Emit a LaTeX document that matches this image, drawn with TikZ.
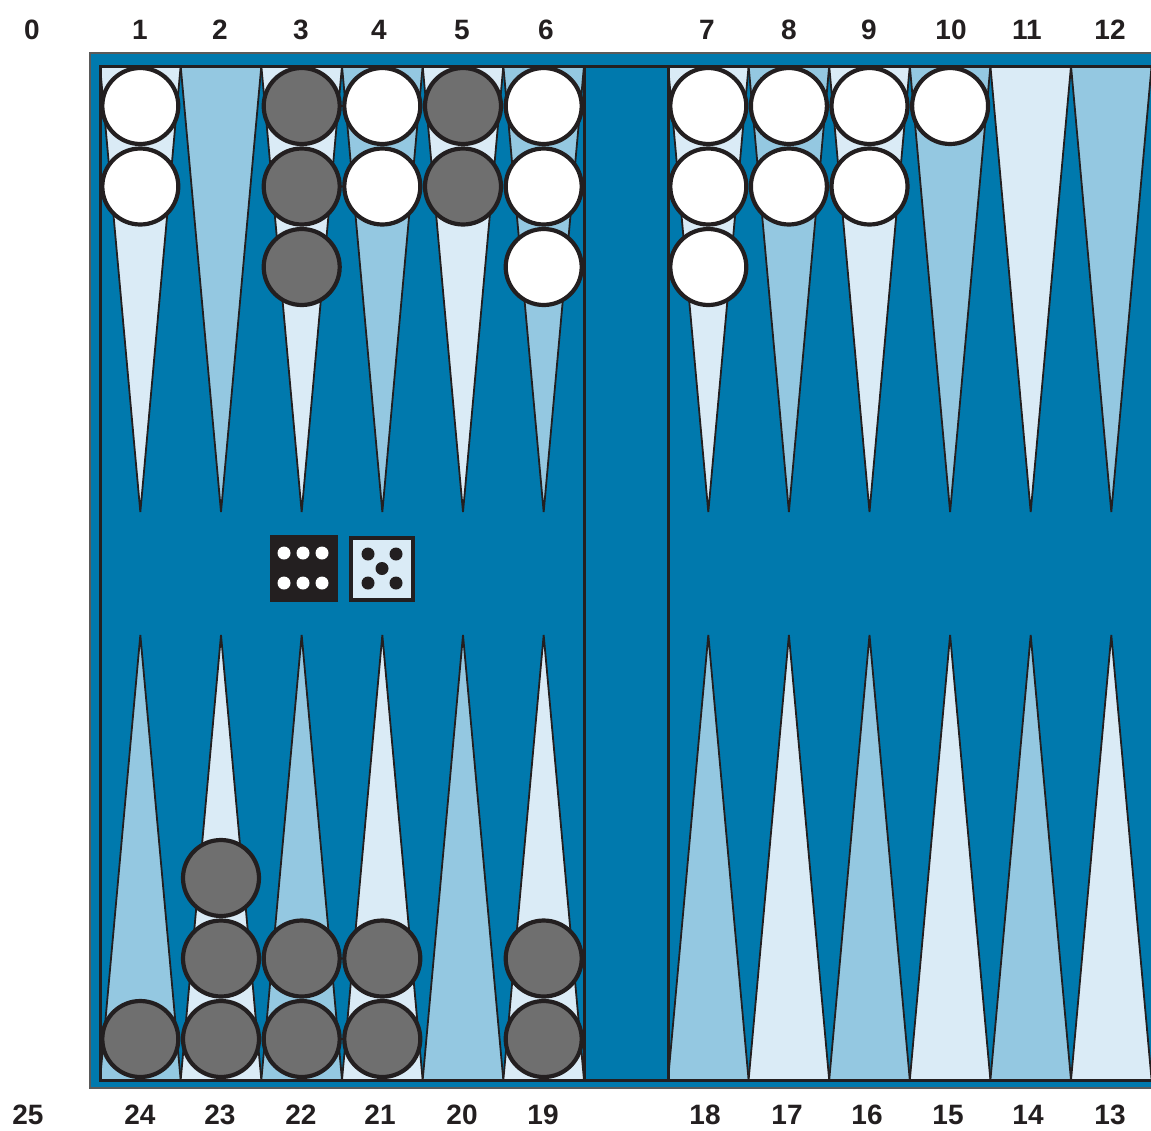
\documentclass[tikz,border=0pt]{standalone}
\usepackage{fontspec}
\setsansfont{Liberation Sans}
\definecolor{boardblue}{HTML}{0079AD}
\definecolor{medpt}{HTML}{94C8E1}
\definecolor{lightpt}{HTML}{DAEBF6}
\definecolor{darkline}{HTML}{231F20}
\definecolor{graychk}{HTML}{6F6F6F}
\definecolor{framegray}{HTML}{5A5A5A}
\begin{document}
\begin{tikzpicture}[x=1pt,y=-1pt,
  pointtri/.style={draw=darkline,line width=1.8pt,line join=miter},
  checker/.style={circle,draw=darkline,line width=4.2pt,inner sep=0pt,minimum size=76pt},
  whitechk/.style={checker,fill=white},
  graychk/.style={checker,fill=graychk},
  numlbl/.style={font=\sffamily\bfseries\fontsize{28}{31}\selectfont,text=darkline,inner sep=0pt},
  pipw/.style={circle,fill=white,inner sep=0pt,minimum size=13pt},
  pipb/.style={circle,fill=darkline,inner sep=0pt,minimum size=13pt}]
\useasboundingbox (0,0) rectangle (1151,1130);
\clip (0,0) rectangle (1151,1130);
\fill[white] (0,0) rectangle (1151,1130);
% frame
\filldraw[fill=boardblue,draw=framegray,line width=1.5pt] (90,53) rectangle (1180,1088);
\filldraw[fill=boardblue,draw=darkline,line width=3pt] (100,66) rectangle (1190,1080);
% points, left half
\foreach \i/\tc/\bc in {1/lightpt/medpt,2/medpt/lightpt,3/lightpt/medpt,4/medpt/lightpt,5/lightpt/medpt,6/medpt/lightpt} {
  \pgfmathsetmacro\xl{100+(\i-1)*80.667}
  \pgfmathsetmacro\xr{\xl+80.667}
  \pgfmathsetmacro\xc{\xl+40.333}
  \filldraw[pointtri,fill=\tc] (\xl,66) -- (\xc,512) -- (\xr,66) -- cycle;
  \filldraw[pointtri,fill=\bc] (\xl,1080) -- (\xc,635) -- (\xr,1080) -- cycle;
}
% points, right half
\foreach \i/\tc/\bc in {1/lightpt/medpt,2/medpt/lightpt,3/lightpt/medpt,4/medpt/lightpt,5/lightpt/medpt,6/medpt/lightpt} {
  \pgfmathsetmacro\xl{668+(\i-1)*80.6}
  \pgfmathsetmacro\xr{\xl+80.6}
  \pgfmathsetmacro\xc{\xl+40.3}
  \filldraw[pointtri,fill=\tc] (\xl,66) -- (\xc,512) -- (\xr,66) -- cycle;
  \filldraw[pointtri,fill=\bc] (\xl,1080) -- (\xc,635) -- (\xr,1080) -- cycle;
}
% bar
\filldraw[fill=boardblue,draw=darkline,line width=3pt] (584,66) rectangle (668,1080);
\draw[darkline,line width=3pt] (100,66) -- (1190,66);
\draw[darkline,line width=3pt] (100,1080) -- (1190,1080);
\draw[darkline,line width=3pt] (100,66) -- (100,1080);
% checkers top (x centres)
\foreach \x/\n/\s in {140.3/2/whitechk, 301.7/3/graychk, 382.3/2/whitechk, 463/2/graychk, 543.7/3/whitechk,
                       708.3/3/whitechk, 788.9/2/whitechk, 869.5/2/whitechk, 950.1/1/whitechk} {
  \foreach \k in {1,...,\n} {
    \node[\s] (ct-\x-\k) at (\x,{106+(\k-1)*80.5}) {};
  }
}
% checkers bottom
\foreach \x/\n/\s in {140.3/1/graychk, 221/3/graychk, 301.7/2/graychk, 382.3/2/graychk, 543.7/2/graychk} {
  \foreach \k in {1,...,\n} {
    \node[\s] (cb-\x-\k) at (\x,{1039-(\k-1)*80.5}) {};
  }
}
% dice
\node[fill=darkline,inner sep=0pt,minimum width=68pt,minimum height=67pt] (dieA) at (304,568.5) {};
\foreach \px in {284,303,322} {
  \node[pipw] (pa-\px-1) at (\px,553) {};
  \node[pipw] (pa-\px-2) at (\px,583) {};
}
\node[fill=lightpt,draw=darkline,line width=4pt,inner sep=0pt,minimum width=62pt,minimum height=62pt] (dieB) at (382,568.5) {};
\foreach \px/\py [count=\c] in {368/554,396/554,382/568.5,368/583,396/583} {
  \node[pipb] (pb-\c) at (\px,\py) {};
}
% labels top
\foreach \t/\x in {0/32,1/140,2/220,3/301,4/379,5/462,6/546,7/707,8/789,9/869,10/951,11/1027,12/1110} {
  \node[numlbl] (nt-\t) at (\x,30) {\t};
}
% labels bottom
\foreach \t/\x in {25/28,24/140,23/220,22/301,21/380,20/462,19/543,18/705,17/787,16/867,15/948,14/1028,13/1110} {
  \node[numlbl] (nb-\t) at (\x,1115) {\t};
}
\end{tikzpicture}
\end{document}
